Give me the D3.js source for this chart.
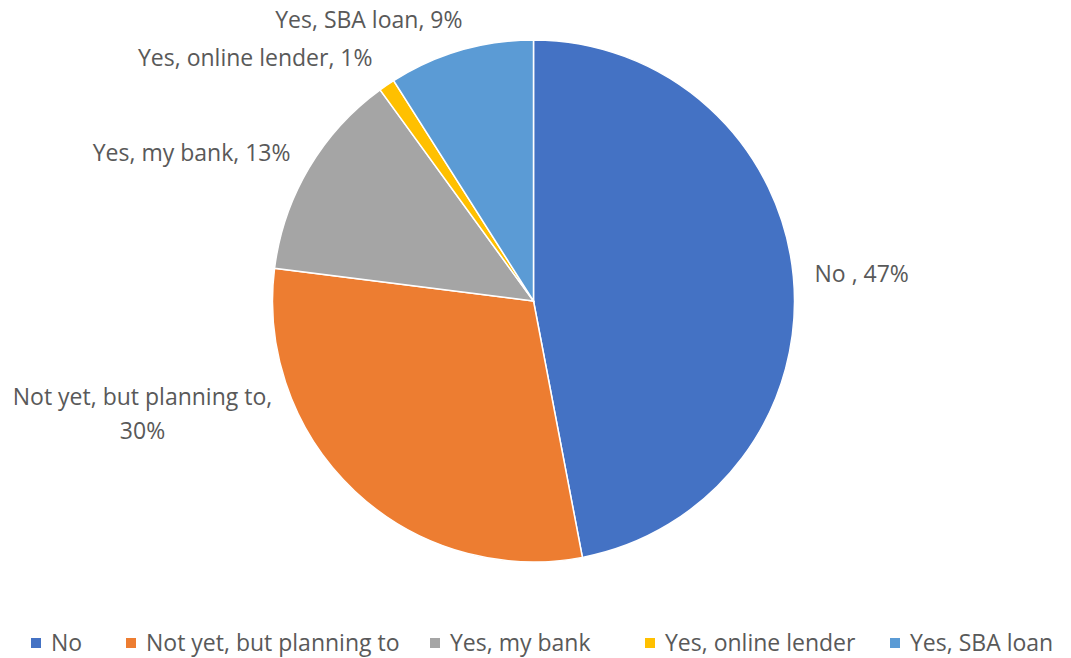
<!DOCTYPE html>
<html>
<head>
<meta charset="utf-8">
<script src="https://cdn.jsdelivr.net/npm/d3@7"></script>
<style>
  body { margin: 0; background: #fff; }
  text { font-family: "Open Sans", sans-serif; fill: #595959; }
</style>
</head>
<body>
<div id="chart"></div>
<script>
// data
var categories = ["No", "Not yet, but planning to", "Yes, my bank", "Yes, online lender", "Yes, SBA loan"];
var values = [47, 30, 13, 1, 9];
var labelText = [["No , 47%"], ["Not yet, but planning to,", "30%"], ["Yes, my bank, 13%"], ["Yes, online lender, 1%"], ["Yes, SBA loan, 9%"]];
var colors = ["#4472C4", "#ED7D31", "#A5A5A5", "#FFC000", "#5B9BD5"];

// label placement (offset from pie centre, like excel puts them)
var labelLayout = [
  {dx: 281, dy: -27, anchor: "start"},
  {dx: -391, dy: 96, anchor: "middle"},
  {dx: -243, dy: -148, anchor: "end"},
  {dx: -161, dy: -243, anchor: "end"},
  {dx: -71, dy: -281, anchor: "end"}
];

var width = 1071, height = 658;
var cx = 533.5, cy = 301, radius = 261;
var fontSize = "23px";

var svg = d3.select("#chart")
  .append("svg")
    .attr("width", width)
    .attr("height", height);

var g = svg.append("g")
    .attr("transform", "translate(" + cx + "," + cy + ")");

var pie = d3.pie().sort(null).value(function(d) { return d; });
var arc = d3.arc().innerRadius(0).outerRadius(radius);
var arcs = pie(values);

g.selectAll("path.slice")
  .data(arcs)
  .enter()
  .append("path")
    .attr("class", "slice")
    .attr("d", arc)
    .style("fill", function(d, i) { return colors[i]; })
    .style("stroke", "#fff")
    .style("stroke-width", 1.5);

// data labels
var labels = g.selectAll("text.lbl")
  .data(arcs)
  .enter()
  .append("text")
    .attr("class", "lbl")
    .attr("x", function(d, i) { return labelLayout[i].dx; })
    .attr("y", function(d, i) { return labelLayout[i].dy; })
    .attr("text-anchor", function(d, i) { return labelLayout[i].anchor; })
    .style("font-size", fontSize);

labels.each(function(d, i) {
  var t = d3.select(this);
  labelText[i].forEach(function(line, k) {
    t.append("tspan")
      .attr("x", labelLayout[i].dx)
      .attr("dy", k == 0 ? "0.35em" : "34px")
      .text(line);
  });
});

// legend
var legendX = [31, 126, 430, 645, 890];
var legend = svg.append("g").attr("transform", "translate(0,643)");
var items = legend.selectAll("g.item")
  .data(categories)
  .enter()
  .append("g")
    .attr("class", "item")
    .attr("transform", function(d, i) { return "translate(" + legendX[i] + ",0)"; });

items.append("rect")
  .attr("x", 0).attr("y", -5)
  .attr("width", 10).attr("height", 10)
  .style("fill", function(d, i) { return colors[i]; });

items.append("text")
  .attr("x", 20)
  .attr("dy", "0.35em")
  .style("font-size", fontSize)
  .text(function(d) { return d; });
</script>
</body>
</html>
